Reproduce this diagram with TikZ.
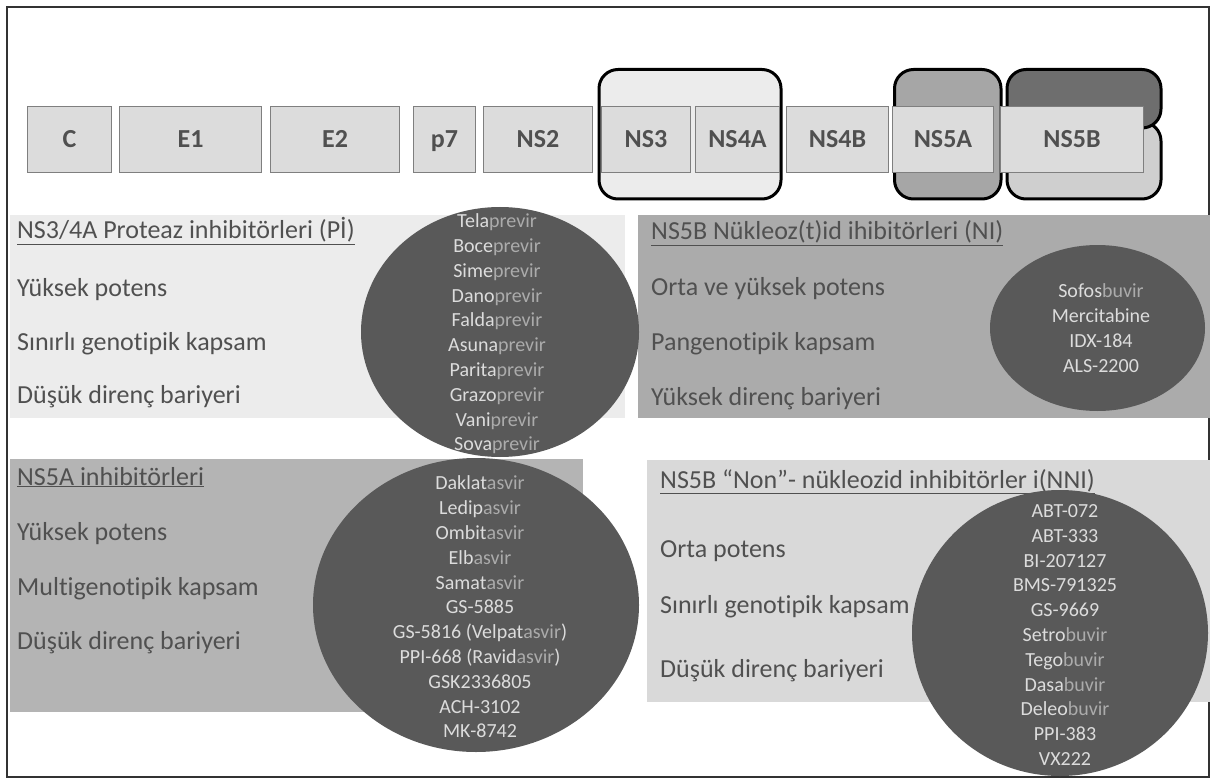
\documentclass[tikz,border=0pt]{standalone}
\usepackage{fontspec}
\setmainfont{Carlito}[Ligatures=NoCommon]
\usepackage{tikz}
\usetikzlibrary{shapes.geometric,positioning}
\definecolor{genefill}{HTML}{DCDCDC}
\definecolor{geneline}{HTML}{7F7F7F}
\definecolor{inktext}{HTML}{505050}
\definecolor{panelpi}{HTML}{ECECEC}
\definecolor{panelni}{HTML}{ABABAB}
\definecolor{panelna}{HTML}{B4B4B4}
\definecolor{panelnni}{HTML}{D9D9D9}
\definecolor{blobfill}{HTML}{595959}
\definecolor{druglit}{HTML}{DCDCDC}
\definecolor{drugdim}{HTML}{ABABAB}
\newcommand{\drug}[2]{{\color{druglit}#1}{\color{drugdim}#2}}
\tikzset{x=1pt,y=-1pt,
  genebox/.style={draw=geneline,fill=genefill,line width=1.5pt,minimum height=66pt,inner sep=0pt,outer sep=0pt,
    text height=16.5pt,text depth=0pt,font=\fontsize{26}{30}\selectfont\bfseries,text=inktext},
  geneframe/.style={draw=black,line width=3pt,rounded corners=19pt},
  paneltext/.style={anchor=base west,inner sep=0pt,font=\fontsize{26}{30}\selectfont,text=inktext},
  blob/.style={ellipse,fill=blobfill,inner sep=0pt},
  druglist/.style={align=center,inner sep=0pt,font=\fontsize{20}{24.8}\selectfont,text=druglit}}
\begin{document}
\begin{tikzpicture}
    \useasboundingbox (0,0) rectangle (1210,778);
    \draw[line width=1.5pt,black!80] (7,7) rectangle (1209,777);

    \draw[geneframe,fill=panelpi] (599,69.5) rectangle (781,199);
    \draw[geneframe,fill=black!35] (894.5,69.5) rectangle (1001,199);
    \draw[geneframe,fill=black!19] (1007,122) rectangle (1161,199);
    \draw[geneframe,fill=black!57] (1007,69.5) rectangle (1161,128);

    \node[genebox,minimum width=84pt,anchor=west] (c) at (27.5,139.5) {C};
    \node[genebox,minimum width=142pt,right=8pt of c] (e1) {E1};
    \node[genebox,minimum width=129pt,right=9pt of e1] (e2) {E2};
    \node[genebox,minimum width=62pt,right=14pt of e2] (p7) {p7};
    \node[genebox,minimum width=109pt,right=8pt of p7] (ns2) {NS2};
    \node[genebox,minimum width=89pt,right=9pt of ns2] (ns3) {NS3};
    \node[genebox,minimum width=84pt,right=5pt of ns3] (ns4a) {NS4A};
    \node[genebox,minimum width=102pt,right=7pt of ns4a] (ns4b) {NS4B};
    \node[genebox,minimum width=101pt,right=4pt of ns4b] (ns5a) {NS5A};
    \node[genebox,minimum width=143pt,right=7pt of ns5a] (ns5b) {NS5B};

    \fill[panelpi] (10,215) rectangle (625,418);
    \fill[panelni] (638,215) rectangle (1210,418);
    \fill[panelna] (10,459) rectangle (583,712);
    \fill[panelnni] (647,460) rectangle (1210,702);

    \node[paneltext] (pihead) at (17,239) {\underline{NS3/4A Proteaz inhibitörleri (Pİ)}};
    \node[paneltext] (pi1) at (17,296) {Yüksek potens};
    \node[paneltext] (pi2) at (17,350) {Sınırlı genotipik kapsam};
    \node[paneltext] (pi3) at (17,403) {Düşük direnç bariyeri};

    \node[paneltext] (nihead) at (651,240) {\underline{NS5B Nükleoz(t)id ihibitörleri (NI)}};
    \node[paneltext] (ni1) at (651,295) {Orta ve yüksek potens};
    \node[paneltext] (ni2) at (651,350) {Pangenotipik kapsam};
    \node[paneltext] (ni3) at (651,405) {Yüksek direnç bariyeri};

    \node[paneltext] (nahead) at (17,485) {\underline{NS5A inhibitörleri}};
    \node[paneltext] (na1) at (17,540) {Yüksek potens};
    \node[paneltext] (na2) at (17,595) {Multigenotipik kapsam};
    \node[paneltext] (na3) at (17,649) {Düşük direnç bariyeri};

    \node[paneltext] (nnihead) at (660,488) {\underline{NS5B “Non”- nükleozid inhibitörler i(NNI)}};
    \node[paneltext] (nni1) at (660,557) {Orta potens};
    \node[paneltext] (nni2) at (660,613) {Sınırlı genotipik kapsam};
    \node[paneltext] (nni3) at (660,677) {Düşük direnç bariyeri};

    \node[blob,minimum width=278pt,minimum height=250pt] (piblob) at (500,332) {};
    \node[blob,minimum width=326pt,minimum height=294pt] (nablob) at (476,605) {};
    \node[blob,minimum width=215pt,minimum height=166pt] (niblob) at (1097.5,328) {};
    \node[blob,minimum width=296pt,minimum height=286pt] (nniblob) at (1060,633) {};

    \node[druglist] (pidrugs) at (497,334) {\drug{Tela}{previr}\\\drug{Boce}{previr}\\\drug{Sime}{previr}\\
      \drug{Dano}{previr}\\\drug{Falda}{previr}\\\drug{Asuna}{previr}\\\drug{Parita}{previr}\\
      \drug{Grazo}{previr}\\\drug{Vani}{previr}\\\drug{Sova}{previr}};
    \node[druglist] (nadrugs) at (480,607) {\drug{Daklat}{asvir}\\\drug{Ledip}{asvir}\\\drug{Ombit}{asvir}\\
      \drug{Elb}{asvir}\\\drug{Samat}{asvir}\\GS-5885\\GS-5816 (\drug{Velpat}{asvir})\\
      PPI-668 (\drug{Ravid}{asvir})\\GSK2336805\\ACH-3102\\MK-8742};
    \node[druglist] (nidrugs) at (1101,328) {\drug{Sofos}{buvir}\\Mercitabine\\IDX-184\\ALS-2200};
    \node[druglist] (nnidrugs) at (1065,635) {ABT-072\\ABT-333\\BI-207127\\BMS-791325\\GS-9669\\
      \drug{Setro}{buvir}\\\drug{Tego}{buvir}\\\drug{Dasa}{buvir}\\\drug{Deleo}{buvir}\\PPI-383\\VX222};
\end{tikzpicture}
\end{document}
